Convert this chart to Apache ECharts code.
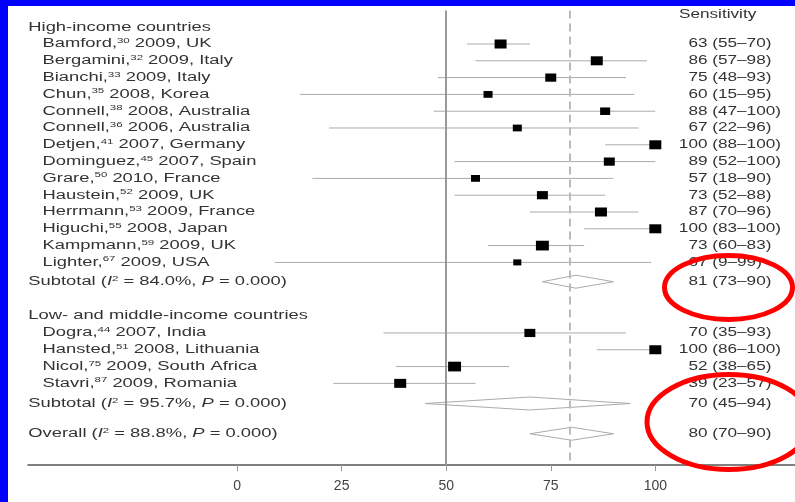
<!DOCTYPE html>
<html>
<head>
<meta charset="utf-8">
<style>
  html, body { margin: 0; padding: 0; background: #fff; }
  #main { width: 795px; height: 502px; }
</style>
<script src="https://cdn.jsdelivr.net/npm/echarts@6/dist/echarts.min.js"></script>
</head>
<body>
<div id="main"></div>
<script>
// high-income countries
const hiAuthors = ['Bamford', 'Bergamini', 'Bianchi', 'Chun', 'Connell', 'Connell', 'Detjen', 'Dominguez', 'Grare', 'Haustein', 'Herrmann', 'Higuchi', 'Kampmann', 'Lighter'];
const hiRefs = [30, 32, 33, 35, 38, 36, 41, 45, 50, 52, 53, 55, 59, 67];
const hiYears = [2009, 2009, 2009, 2008, 2008, 2006, 2007, 2007, 2010, 2009, 2009, 2008, 2009, 2009];
const hiCountries = ['UK', 'Italy', 'Italy', 'Korea', 'Australia', 'Australia', 'Germany', 'Spain', 'France', 'UK', 'France', 'Japan', 'UK', 'USA'];
const hiSens = [63, 86, 75, 60, 88, 67, 100, 89, 57, 73, 87, 100, 73, 67];
const hiLow = [55, 57, 48, 15, 47, 22, 88, 52, 18, 52, 70, 83, 60, 9];
const hiHigh = [70, 98, 93, 95, 100, 96, 100, 100, 90, 88, 96, 100, 83, 99];
const hiWeight = [6.0, 6.0, 5.0, 3.4, 4.2, 3.4, 6.0, 5.0, 3.4, 5.0, 6.0, 6.0, 7.0, 2.7];

// low- and middle-income countries
const lmAuthors = ['Dogra', 'Hansted', 'Nicol', 'Stavri'];
const lmRefs = [44, 51, 75, 87];
const lmYears = [2007, 2008, 2009, 2009];
const lmCountries = ['India', 'Lithuania', 'South Africa', 'Romania'];
const lmSens = [70, 100, 52, 39];
const lmLow = [35, 86, 38, 23];
const lmHigh = [93, 100, 65, 57];
const lmWeight = [5.0, 6.0, 7.0, 6.0];

// pooled estimates: subtotal high, subtotal low/middle, overall
const pooledNames = ['Subtotal', 'Subtotal', 'Overall'];
const pooledI2 = ['84.0', '95.7', '88.8'];
const pooledP = ['0.000', '0.000', '0.000'];
const pooledSens = [81, 70, 80];
const pooledLow = [73, 45, 70];
const pooledHigh = [90, 94, 90];

const nullValue = 50;
const overallLine = 79.5;
const tickValues = [0, 25, 50, 75, 100];

const FONT = "'Liberation Sans', Arial, sans-serif";
const TXT = '#333';
const SX = 1.43;      // right column stretch
const SX_LEFT = 1.53; // left column stretch

// build rows
const studyData = [];
const diamondData = [];
const labels = [];
let row = 1;
labels.push({ row: row, left: '{n|High-income countries}', indent: 0 });
row++;
function addStudies(authors, refs, years, countries, sens, low, high, weight) {
  for (let i = 0; i < authors.length; i++) {
    studyData.push([row, sens[i], low[i], high[i], weight[i]]);
    labels.push({
      row: row,
      left: '{n|' + authors[i] + ',}{s|' + refs[i] + '}{n| ' + years[i] + ', ' + countries[i] + '}',
      indent: 1,
      est: String(sens[i]),
      ci: ' (' + low[i] + '\u2013' + high[i] + ')'
    });
    row++;
  }
}
function addPooled(k, r) {
  diamondData.push([r, pooledSens[k], pooledLow[k], pooledHigh[k]]);
  labels.push({
    row: r,
    left: '{n|' + pooledNames[k] + ' (}{i|I}{s|2}{n| = ' + pooledI2[k] + '%, }{i|P}{n| = ' + pooledP[k] + ')}',
    indent: 0,
    est: String(pooledSens[k]),
    ci: ' (' + pooledLow[k] + '\u2013' + pooledHigh[k] + ')'
  });
}
addStudies(hiAuthors, hiRefs, hiYears, hiCountries, hiSens, hiLow, hiHigh, hiWeight);
addPooled(0, row + 0.15);
row += 2.2;
labels.push({ row: row, left: '{n|Low- and middle-income countries}', indent: 0 });
row++;
addStudies(lmAuthors, lmRefs, lmYears, lmCountries, lmSens, lmLow, lmHigh, lmWeight);
addPooled(1, row + 0.2);
addPooled(2, row + 2);

const rich = {
  n: { fontSize: 12, fontFamily: FONT, fill: TXT, lineHeight: 14 },
  i: { fontSize: 12, fontFamily: FONT, fill: TXT, fontStyle: 'italic', lineHeight: 14 },
  s: { fontSize: 7.5, fontFamily: FONT, fill: TXT, verticalAlign: 'top', lineHeight: 14 }
};

const myChart = echarts.init(document.getElementById('main'));

const options = {
  animation: false,
  grid: { left: 28, right: 0, top: 10.4, bottom: 37 },
  xAxis: {
    type: 'value',
    position: 'bottom',
    min: -50,
    max: 133.4,
    interval: 25,
    splitLine: { show: false },
    axisLine: { onZero: false, lineStyle: { color: '#555', width: 1.5 } },
    axisTick: { customValues: tickValues, length: 6, lineStyle: { color: '#999' } },
    axisLabel: { customValues: tickValues, color: '#444', fontSize: 14, fontFamily: FONT, margin: 14 }
  },
  yAxis: { type: 'value', inverse: true, min: 0, max: 27.06, show: false },
  graphic: [
    { type: 'rect', shape: { x: 0, y: 0, width: 795, height: 6 }, style: { fill: '#0000ff' }, z: 200 },
    { type: 'rect', shape: { x: 0, y: 0, width: 8, height: 502 }, style: { fill: '#0000ff' }, z: 200 },
    {
      type: 'text', x: 679, y: 15, scaleX: SX,
      style: { text: 'Sensitivity', font: '12px ' + FONT, fill: TXT, verticalAlign: 'middle' }
    },
    {
      type: 'ellipse', z: 100,
      shape: { cx: 728.5, cy: 287.5, rx: 64, ry: 32 },
      style: { fill: 'none', stroke: '#f00', lineWidth: 5 }
    },
    {
      type: 'ellipse', z: 100,
      shape: { cx: 729, cy: 422, rx: 82, ry: 47.5 },
      style: { fill: 'none', stroke: '#f00', lineWidth: 5 }
    }
  ],
  series: [
    {
      name: 'studies',
      type: 'custom',
      data: studyData,
      encode: { x: [1, 2, 3], y: 0 },
      renderItem: function (params, api) {
        const y = api.value(0);
        const c = api.coord([api.value(1), y]);
        const l = api.coord([api.value(2), y]);
        const h = api.coord([api.value(3), y]);
        const w = 4.9 * Math.sqrt(api.value(4));
        const hh = w * 0.75;
        return {
          type: 'group',
          children: [
            { type: 'line', shape: { x1: l[0], y1: c[1], x2: h[0], y2: c[1] }, style: { stroke: '#aaa', lineWidth: 1 } },
            { type: 'rect', shape: { x: c[0] - w / 2, y: c[1] - hh / 2, width: w, height: hh }, style: { fill: '#000' } }
          ]
        };
      },
      markLine: {
        silent: true,
        symbol: 'none',
        label: { show: false },
        data: [
          { xAxis: nullValue, lineStyle: { color: '#999', width: 2, type: 'solid' } },
          { xAxis: overallLine, lineStyle: { color: '#bbb', width: 2, type: [8, 5] } }
        ]
      }
    },
    {
      name: 'pooled',
      type: 'custom',
      data: diamondData,
      encode: { x: [1, 2, 3], y: 0 },
      renderItem: function (params, api) {
        const y = api.value(0);
        const c = api.coord([api.value(1), y]);
        const l = api.coord([api.value(2), y]);
        const h = api.coord([api.value(3), y]);
        const d = 6.5;
        return {
          type: 'polygon',
          shape: { points: [[l[0], c[1]], [c[0], c[1] - d], [h[0], c[1]], [c[0], c[1] + d]] },
          style: { fill: 'none', stroke: '#aaa', lineWidth: 1 }
        };
      }
    },
    {
      name: 'labels',
      type: 'custom',
      data: labels.map(lb => [-50, lb.row]),
      encode: { x: 0, y: 1 },
      renderItem: function (params, api) {
        const lb = labels[params.dataIndex];
        const p = api.coord([api.value(0), api.value(1)]);
        const children = [{
          type: 'text',
          x: p[0] + (lb.indent ? 14.5 : 0.3),
          y: p[1],
          scaleX: SX_LEFT,
          style: { text: lb.left, rich: rich, verticalAlign: 'middle', align: 'left' }
        }];
        if (lb.est) {
          const rx = api.getWidth() - 87.5;
          children.push({
            type: 'text', x: rx, y: p[1], scaleX: SX,
            style: { text: lb.est, font: '12px ' + FONT, fill: TXT, align: 'right', verticalAlign: 'middle' }
          });
          children.push({
            type: 'text', x: rx, y: p[1], scaleX: SX,
            style: { text: lb.ci, font: '12px ' + FONT, fill: TXT, align: 'left', verticalAlign: 'middle' }
          });
        }
        return { type: 'group', children: children };
      }
    }
  ]
};

myChart.setOption(options);
</script>
</body>
</html>
